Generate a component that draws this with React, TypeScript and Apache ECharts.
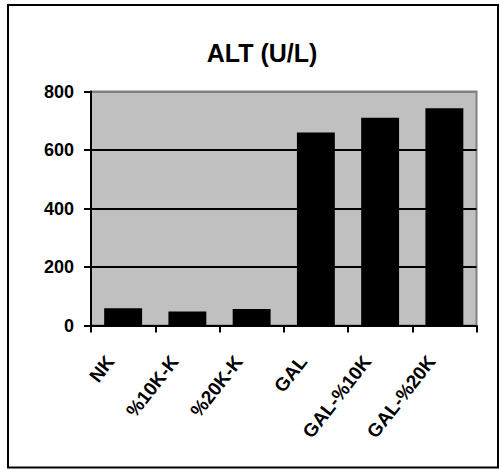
import React, { useEffect, useRef } from "react";
import * as echarts from "echarts";

const categories = ["NK", "%10K-K", "%20K-K", "GAL", "GAL-%10K", "GAL-%20K"];
const altValues = [59, 48, 56, 660, 710, 743];
const yTicks = [0, 200, 400, 600, 800];
const titleText = "ALT (U/L)";

export default function App() {
  const ref = useRef<HTMLDivElement>(null);
  useEffect(() => {
    if (!ref.current) return;
    const chart = echarts.init(ref.current, null, { renderer: "svg" });
    const font = "'Liberation Sans', Arial, sans-serif";
    chart.setOption({
      animation: false,
      backgroundColor: "#ffffff",
      title: {
        text: titleText,
        left: 257,
        top: 35,
        textAlign: "center",
        textStyle: { fontFamily: font, fontWeight: "bold", fontSize: 25, color: "#000" },
      },
      graphic: [
        {
          type: "rect",
          shape: { x: 8, y: 5, width: 490, height: 462.5 },
          style: { fill: "none", stroke: "#000", lineWidth: 2 },
          silent: true,
          z: 100,
        },
      ],
      grid: {
        left: 91,
        right: 22.5,
        top: 91.5,
        bottom: 144.5,
        show: true,
        backgroundColor: "#c0c0c0",
        borderColor: "#808080",
        borderWidth: 2,
      },
      xAxis: {
        type: "category",
        data: categories,
        axisLine: { lineStyle: { color: "#000", width: 2 } },
        axisTick: { show: true, length: 7, lineStyle: { color: "#000", width: 2 } },
        axisLabel: {
          interval: 0,
          rotate: 52,
          margin: 16,
          padding: [0, 21, 0, 0],
          fontFamily: font,
          fontWeight: "bold",
          fontSize: 19,
          color: "#000",
        },
      },
      yAxis: {
        type: "value",
        min: yTicks[0],
        max: yTicks[yTicks.length - 1],
        interval: 200,
        axisLine: { show: true, lineStyle: { color: "#000", width: 2 } },
        axisTick: { show: true, length: 7, lineStyle: { color: "#000", width: 2 } },
        axisLabel: {
          margin: 17,
          fontFamily: font,
          fontWeight: "bold",
          fontSize: 18,
          color: "#000",
        },
        splitLine: {
          show: true,
          lineStyle: { color: ["#000", "#000", "#000", "#000", "#808080"], width: 2 },
        },
      },
      series: [
        {
          type: "bar",
          data: altValues,
          barCategoryGap: "41%",
          itemStyle: { color: "#000" },
        },
      ],
    });
    return () => chart.dispose();
  }, []);
  return (
    <div
      ref={ref}
      style={{ position: "absolute", left: 0, top: 0, width: 499, height: 470 }}
    />
  );
}
